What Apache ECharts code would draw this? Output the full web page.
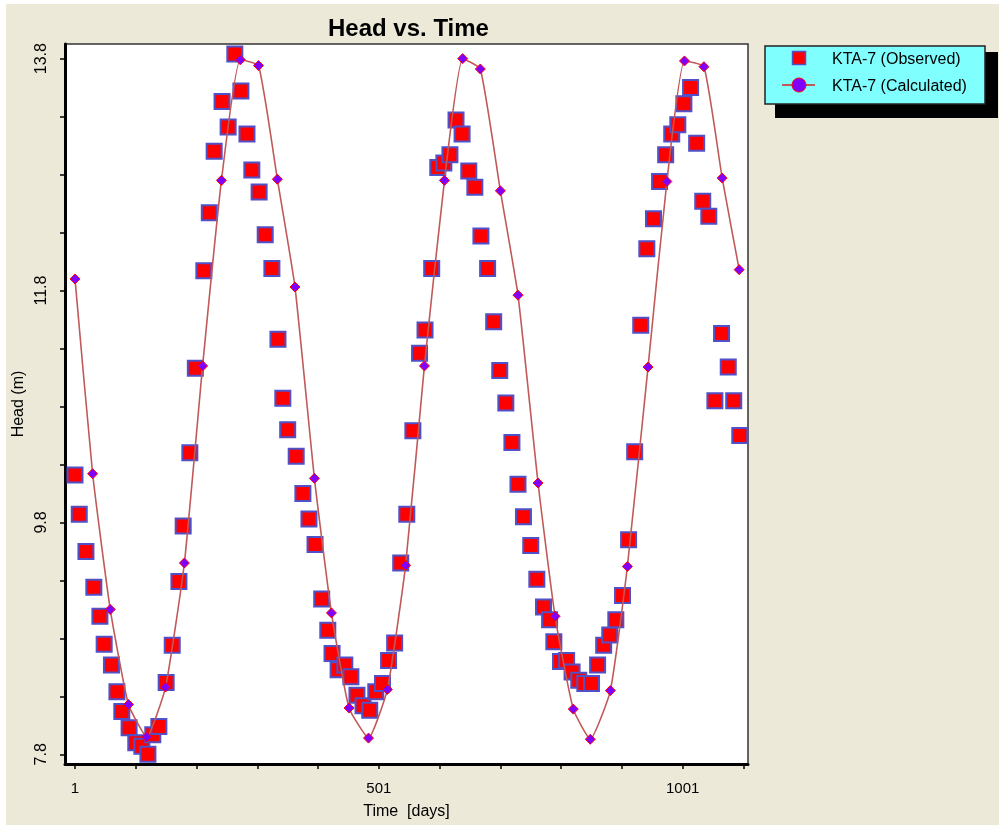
<!DOCTYPE html>
<html>
<head>
<meta charset="utf-8">
<script src="https://cdn.jsdelivr.net/npm/echarts@6/dist/echarts.min.js"></script>
<style>
html,body{margin:0;padding:0;background:#ffffff;}
#chart{width:999px;height:825px;}
</style>
</head>
<body>
<div id="chart"></div>
<script>
// ---- data ----
const obsDays = [1,8,19,32,42,49,61,70,78,90,101,111,121,129,139,151,161,172,179,190,199,213,222,230,243,253,264,274,284,292,304,314,325,335,343,351,365,
  376,386,396,407,417,424,434,445,455,465,475,486,496,507,517,527,537,547,557,568,577,588,598,608,618,628,638,649,659,669,680,690,700,710,720,730,739,
  751,761,772,782,789,800,810,819,830,840,851,861,871,881,891,902,912,922,932,942,953,963,973,983,993,1003,1014,1024,1034,1044,1054,1065,1076,1085,1095];
const obsHead = [10.21,9.87,9.55,9.24,8.99,8.75,8.57,8.34,8.17,8.03,7.90,7.87,7.80,7.97,8.04,8.42,8.74,9.29,9.77,10.40,11.13,11.97,12.47,13.00,13.43,13.21,13.84,13.52,13.15,12.84,12.65,12.28,11.99,11.38,10.87,10.60,10.37,
  10.05,9.83,9.61,9.14,8.87,8.67,8.53,8.57,8.47,8.31,8.22,8.18,8.34,8.41,8.61,8.76,9.45,9.87,10.59,11.26,11.46,11.99,12.86,12.90,12.97,13.27,13.15,12.83,12.69,12.27,11.99,11.53,11.11,10.83,10.49,10.13,9.85,
  9.60,9.31,9.07,8.96,8.77,8.60,8.61,8.51,8.44,8.41,8.41,8.57,8.74,8.83,8.96,9.17,9.65,10.41,11.50,12.16,12.42,12.74,12.97,13.15,13.23,13.41,13.55,13.07,12.57,12.44,10.85,11.43,11.14,10.85,10.55];

const calcDays = [1,30,59,89,119,150,181,211,242,273,303,334,363,395,423,452,484,515,545,576,609,639,668,701,730,763,791,821,849,882,910,944,975,1004,1036,1066,1094];
const calcHead = [11.90,10.22,9.05,8.23,7.95,8.38,9.45,11.15,12.75,13.79,13.74,12.76,11.83,10.18,9.02,8.20,7.94,8.36,9.43,11.15,12.75,13.80,13.71,12.66,11.76,10.14,8.99,8.19,7.93,8.35,9.42,11.14,12.74,13.78,13.73,12.77,11.98];

const xTickValues = [1,101,201,301,401,501,601,701,801,901,1001,1101];
const xTickLabels = [1,501,1001];
const yTickValues = [7.8,8.3,8.8,9.3,9.8,10.3,10.8,11.3,11.8,12.3,12.8,13.3,13.8];
const yTickLabels = [7.8,9.8,11.8,13.8];

const seriesNames = ['KTA-7 (Observed)','KTA-7 (Calculated)'];
const titleText = 'Head vs. Time';
const xName = 'Time  [days]';
const yName = 'Head (m)';

// ---- chart ----
const FONT = '"Liberation Sans", Arial, sans-serif';
const chart = echarts.init(document.getElementById('chart'), null, {renderer:'canvas'});

const obsData = obsDays.map((d,i)=>[d, obsHead[i]]);
const calcData = calcDays.map((d,i)=>[d, calcHead[i]]);

const lineColor = '#c05a5a';

chart.setOption({
  backgroundColor: '#ECE9D8',
  animation: false,
  title: {
    text: titleText,
    left: 323, top: 12,
    textStyle: {fontFamily: FONT, fontSize: 24, fontWeight: 'bold', color: '#000'}
  },
  grid: {
    left: 65, top: 44, width: 683, height: 723,
    show: true, backgroundColor: '#ffffff', borderColor: '#333', borderWidth: 1.5
  },
  xAxis: {
    type: 'value',
    min: -15.46, max: 1108.5,
    name: xName, nameLocation: 'middle', nameGap: 40,
    nameTextStyle: {fontFamily: FONT, fontSize: 16, color: '#000'},
    axisLine: {show: true, onZero: false, lineStyle: {color: '#000', width: 3}},
    axisTick: {show: true, length: 5, lineStyle: {color: '#000', width: 1.5}, customValues: xTickValues},
    axisLabel: {show: true, margin: 17, fontFamily: FONT, fontSize: 15, color: '#000', customValues: xTickLabels,
      formatter: v => String(v)},
    splitLine: {show: false}
  },
  yAxis: {
    type: 'value',
    min: 7.7167, max: 13.926,
    name: yName, nameLocation: 'middle', nameGap: 36, nameRotate: 90,
    nameTextStyle: {fontFamily: FONT, fontSize: 16, color: '#000'},
    axisLine: {show: true, onZero: false, lineStyle: {color: '#000', width: 3}},
    axisTick: {show: true, length: 5, lineStyle: {color: '#000', width: 1.5}, customValues: yTickValues},
    axisLabel: {show: true, rotate: 90, margin: 15, fontFamily: FONT, fontSize: 16, color: '#000', customValues: yTickLabels,
      formatter: v => Number(v).toFixed(1)},
    splitLine: {show: false}
  },
  series: [
    {
      name: seriesNames[0],
      type: 'scatter',
      data: obsData,
      symbol: 'rect',
      symbolSize: 15,
      itemStyle: {color: '#ff0000', borderColor: '#5050c8', borderWidth: 2, opacity: 1},
      z: 2
    },
    {
      name: seriesNames[1],
      type: 'line',
      data: calcData,
      smooth: 0.15,
      symbol: 'diamond',
      symbolSize: 10,
      showSymbol: true,
      lineStyle: {color: lineColor, width: 1.6},
      itemStyle: {color: '#8000ff', borderColor: '#ff0000', borderWidth: 1},
      z: 3
    }
  ],
  graphic: [
    {type: 'rect', left: 0, top: 0, shape: {width: 6, height: 825}, style: {fill: '#fff'}, silent: true},
    {type: 'rect', left: 0, top: 0, shape: {width: 999, height: 4}, style: {fill: '#fff'}, silent: true},
    // legend box
    {type: 'rect', x: 775, y: 52, shape: {width: 223, height: 66}, style: {fill: '#000'}, silent: true},
    {type: 'rect', x: 765, y: 46, shape: {width: 220, height: 58}, style: {fill: '#80ffff', stroke: '#222', lineWidth: 1.5}, silent: true},
    {type: 'rect', x: 792.5, y: 51.5, shape: {width: 13, height: 13}, style: {fill: '#ff0000', stroke: '#5050c8', lineWidth: 1.5}, silent: true},
    {type: 'text', x: 832, y: 60, style: {text: seriesNames[0], fontFamily: FONT, fontSize: 16, fill: '#000', verticalAlign: 'middle'}, silent: true},
    {type: 'line', shape: {x1: 782, y1: 85, x2: 815, y2: 85}, style: {stroke: lineColor, lineWidth: 2}, silent: true},
    {type: 'circle', shape: {cx: 799, cy: 85, r: 7}, style: {fill: '#8000ff', stroke: '#ff0000', lineWidth: 1}, silent: true},
    {type: 'text', x: 832, y: 87, style: {text: seriesNames[1], fontFamily: FONT, fontSize: 16, fill: '#000', verticalAlign: 'middle'}, silent: true}
  ]
});
</script>
</body>
</html>
